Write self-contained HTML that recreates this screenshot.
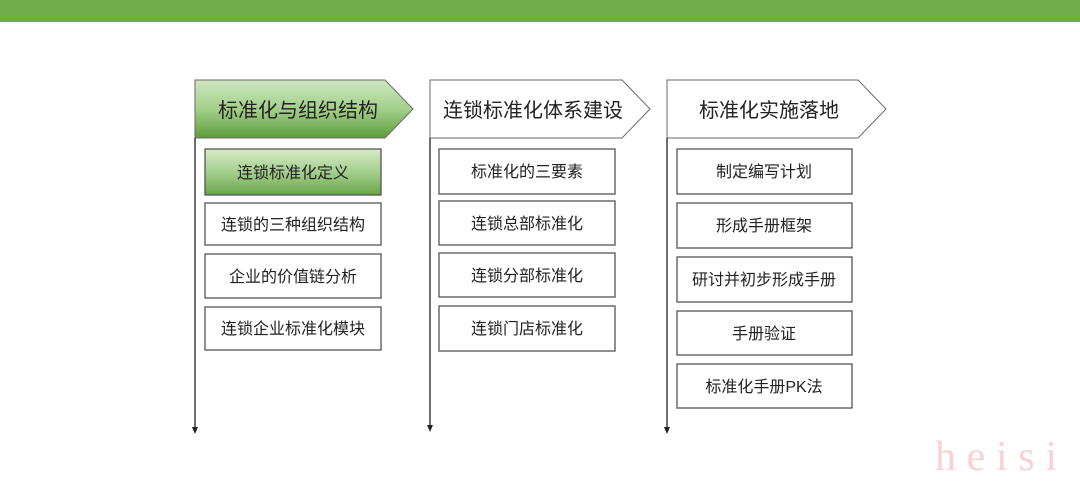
<!DOCTYPE html>
<html><head><meta charset="utf-8"><style>
html,body{margin:0;padding:0;background:#fff;}
svg text{font-family:"Liberation Sans","Noto Sans CJK SC",sans-serif;fill:#222;}
</style></head><body>
<svg width="1080" height="485" viewBox="0 0 1080 485" xmlns="http://www.w3.org/2000/svg">
<defs>
<linearGradient id="g" x1="0" y1="0" x2="0" y2="1">
<stop offset="0" stop-color="#cfe6bf"/><stop offset="0.5" stop-color="#a3d08a"/><stop offset="1" stop-color="#5e9d3c"/>
</linearGradient>
<linearGradient id="g2" x1="0" y1="0" x2="0" y2="1">
<stop offset="0" stop-color="#d6ebc8"/><stop offset="0.5" stop-color="#a5cf8d"/><stop offset="1" stop-color="#6aa548"/>
</linearGradient>
</defs>
<rect x="0" y="0" width="1080" height="22" fill="#70ad47"/>
<polygon points="195,80 385,80 413,109 385,138 195,138" fill="url(#g)" stroke="#6a6a6a" stroke-width="1"/>
<text x="298" y="117" font-size="20" text-anchor="middle">标准化与组织结构</text>
<polygon points="430,80 622,80 650,109 622,138 430,138" fill="#fff" stroke="#6a6a6a" stroke-width="1"/>
<text x="533" y="117" font-size="20" text-anchor="middle">连锁标准化体系建设</text>
<polygon points="667,80 858,80 886,109 858,138 667,138" fill="#fff" stroke="#6a6a6a" stroke-width="1"/>
<text x="769" y="117" font-size="20" text-anchor="middle">标准化实施落地</text>
<g stroke="#222" stroke-width="1.3">
<line x1="195" y1="138" x2="195" y2="428"/>
<line x1="430" y1="138" x2="430" y2="426"/>
<line x1="667" y1="138" x2="667" y2="428"/>
</g>
<g fill="#222">
<polygon points="192,427 198,427 195,434"/>
<polygon points="427,425 433,425 430,432"/>
<polygon points="664,427 670,427 667,434"/>
</g>
<g stroke="#555" stroke-width="1.3" fill="#fff" font-size="16">
<rect x="205" y="149" width="176" height="46" fill="url(#g2)"/>
<rect x="205" y="203" width="176" height="42"/>
<rect x="205" y="254" width="176" height="44"/>
<rect x="205" y="307" width="176" height="43"/>
<rect x="439" y="149" width="176" height="45"/>
<rect x="439" y="201" width="176" height="44"/>
<rect x="439" y="253" width="176" height="44"/>
<rect x="439" y="306" width="176" height="45"/>
<rect x="677" y="149" width="175" height="45"/>
<rect x="677" y="203" width="175" height="45"/>
<rect x="677" y="257" width="175" height="45"/>
<rect x="677" y="311" width="175" height="44"/>
<rect x="677" y="364" width="175" height="44"/>
</g>
<g font-size="16" text-anchor="middle">
<text x="293" y="178">连锁标准化定义</text>
<text x="293" y="230">连锁的三种组织结构</text>
<text x="293" y="282">企业的价值链分析</text>
<text x="293" y="334">连锁企业标准化模块</text>
<text x="527" y="177">标准化的三要素</text>
<text x="527" y="229">连锁总部标准化</text>
<text x="527" y="281">连锁分部标准化</text>
<text x="527" y="334">连锁门店标准化</text>
<text x="764" y="177">制定编写计划</text>
<text x="764" y="231">形成手册框架</text>
<text x="764" y="285">研讨并初步形成手册</text>
<text x="764" y="339">手册验证</text>
<text x="764" y="392">标准化手册PK法</text>
</g>
<text x="935" y="470" font-size="42" textLength="130" lengthAdjust="spacing" style="font-family:'Liberation Serif',serif;fill:#f8d2d2;letter-spacing:8px;">heisi</text>
</svg>
</body></html>
